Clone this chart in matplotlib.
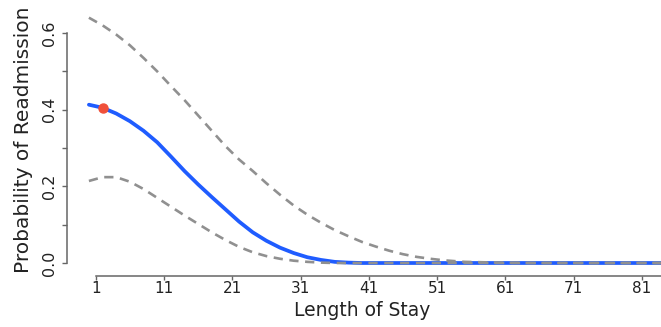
import matplotlib
matplotlib.use("Agg")
import matplotlib.pyplot as plt

# length of stay (days) and fitted readmission probability with bounds
stay = [0, 2, 4, 6, 8, 10, 12, 14, 16, 18, 20, 22, 24, 26, 28, 30, 32, 34,
        36, 38, 40, 42, 44, 46, 48, 50, 52, 55, 60, 65, 70, 75, 84]
prob = [0.413, 0.405, 0.390, 0.370, 0.345, 0.315, 0.278, 0.240, 0.205, 0.172,
        0.140, 0.108, 0.080, 0.058, 0.040, 0.026, 0.015, 0.008, 0.003, 0.001,
        0.0, 0.0, 0.0, 0.0, 0.0, 0.0, 0.0, 0.0, 0.0, 0.0, 0.0, 0.0, 0.0]
upper = [0.640, 0.620, 0.596, 0.568, 0.535, 0.500, 0.462, 0.425, 0.385, 0.345,
         0.305, 0.270, 0.240, 0.208, 0.178, 0.150, 0.126, 0.105, 0.086, 0.070,
         0.055, 0.043, 0.032, 0.023, 0.016, 0.011, 0.007, 0.003, 0.001, 0.0,
         0.0, 0.0, 0.0]
lower = [0.214, 0.224, 0.224, 0.212, 0.193, 0.170, 0.147, 0.124, 0.102, 0.080,
         0.060, 0.042, 0.028, 0.018, 0.011, 0.006, 0.003, 0.001, 0.0, 0.0,
         0.0, 0.0, 0.0, 0.0, 0.0, 0.0, 0.0, 0.0, 0.0, 0.0, 0.0, 0.0, 0.0]
point_x = [2]
point_y = [0.405]

xticks = [1, 11, 21, 31, 41, 51, 61, 71, 81]
yticks = [0.0, 0.1, 0.2, 0.3, 0.4, 0.5, 0.6]
ylabels = ["0.0", "", "0.2", "", "0.4", "", "0.6"]

W, H = 661, 327
fig = plt.figure(figsize=(W / 100, H / 100), dpi=100)
left, right = 85.5, 661
top, bottom = 6.2, 267.6
ax = fig.add_axes([left / W, (H - bottom) / H, (right - left) / W, (bottom - top) / H])

ax.plot(stay, prob, color="#1f5cff", lw=2.7, solid_capstyle="round", zorder=2)
ax.plot(stay, upper, color="#909090", lw=1.9, dashes=(3.5, 2.5), zorder=3)
ax.plot(stay, lower, color="#909090", lw=1.9, dashes=(3.5, 2.5), zorder=3)
ax.plot(point_x, point_y, "o", color="#f0503a", ms=6.5, zorder=4)

ax.set_xlim(-0.5, 83.8)
ax.set_ylim(-0.012, 0.67)

for s in ["top", "right"]:
    ax.spines[s].set_visible(False)
axis_col = "#666666"
ax.spines["left"].set_position(("outward", 13.3))
ax.spines["bottom"].set_position(("outward", 5.8))
ax.spines["left"].set_bounds(0, 0.6)
ax.spines["bottom"].set_bounds(1, 83.8)
ax.spines["left"].set_color(axis_col)
ax.spines["bottom"].set_color(axis_col)
ax.spines["left"].set_linewidth(1.1)
ax.spines["bottom"].set_linewidth(1.1)

ax.set_xticks(xticks)
ax.set_xticklabels([str(v) for v in xticks])
ax.set_yticks(yticks)
ax.set_yticklabels(ylabels, rotation=90, va="center")
ax.tick_params(axis="x", length=3, width=1, color=axis_col, pad=1,
               labelsize=11, labelcolor="#222222")
ax.tick_params(axis="y", length=3.6, width=1, color=axis_col, pad=3.5,
               labelsize=11.5, labelcolor="#222222")

ax.set_xlabel("Length of Stay", fontsize=13.5, color="#222222", va="center")
ax.xaxis.set_label_coords((362 - left) / (right - left), (bottom - 311) / (bottom - top))
ax.set_ylabel("Probability of Readmission", fontsize=14.5, color="#222222", va="center")
ax.yaxis.set_label_coords((24 - left) / (right - left), (bottom - 140) / (bottom - top))

fig.savefig("out.png", dpi=100)
